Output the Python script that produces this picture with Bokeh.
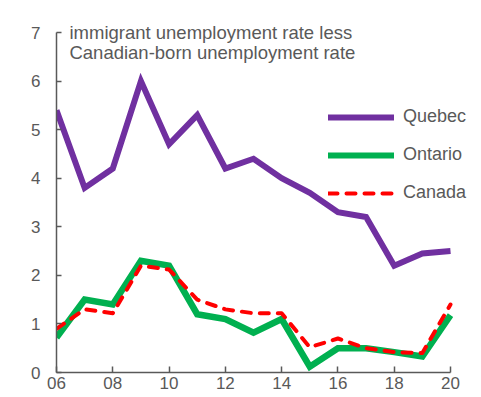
from bokeh.plotting import figure
from bokeh.models import Range1d, FixedTicker, Label, Legend, LegendItem
from bokeh.embed import file_html
from bokeh.resources import INLINE

years = [2006, 2007, 2008, 2009, 2010, 2011, 2012, 2013, 2014, 2015, 2016, 2017, 2018, 2019, 2020]
quebec = [5.4, 3.8, 4.2, 6.0, 4.7, 5.3, 4.2, 4.4, 4.0, 3.7, 3.3, 3.2, 2.2, 2.45, 2.5]
ontario = [0.72, 1.5, 1.4, 2.3, 2.2, 1.2, 1.1, 0.82, 1.1, 0.12, 0.5, 0.5, 0.42, 0.33, 1.18]
canada = [0.9, 1.3, 1.22, 2.2, 2.12, 1.5, 1.3, 1.22, 1.22, 0.52, 0.7, 0.5, 0.42, 0.4, 1.4]
x_ticks = [2006, 2008, 2010, 2012, 2014, 2016, 2018, 2020]
x_tick_labels = ["06", "08", "10", "12", "14", "16", "18", "20"]
y_ticks = [0, 1, 2, 3, 4, 5, 6, 7]
title_lines = ["immigrant unemployment rate less", "Canadian-born unemployment rate"]
series_names = ["Quebec", "Ontario", "Canada"]

FONT = "Liberation Sans"
GREY = "#595959"
PURPLE, GREEN, RED = "#7030A0", "#00B050", "#FF0000"
NAN = float("nan")

# frame spans the page to the right and top edges; axes are bounded to the data extent
x_end = 2006 + 425 * 14 / 394
y_end = 7 + 32 / (340 / 7)

p = figure(width=481, height=397, output_backend="svg", toolbar_location=None,
           x_range=Range1d(2006, x_end), y_range=Range1d(0, y_end),
           min_border_left=56, min_border_right=0, min_border_top=0, min_border_bottom=25)
p.outline_line_color = None
p.xgrid.visible = False
p.ygrid.visible = False
p.background_fill_color = "white"
p.border_fill_color = "white"

for ax in (p.xaxis[0], p.yaxis[0]):
    ax.axis_line_color = GREY
    ax.axis_line_width = 1.5
    ax.major_tick_line_color = GREY
    ax.major_tick_line_width = 1.5
    ax.minor_tick_line_color = None
    ax.major_tick_out = 0
    ax.major_label_text_font = FONT
    ax.major_label_text_font_size = "17px"
    ax.major_label_text_color = GREY

p.xaxis.bounds = (2006, 2020)
p.yaxis.bounds = (0, 7)
p.xaxis.ticker = FixedTicker(ticks=x_ticks)
p.xaxis.major_label_overrides = {t: l for t, l in zip(x_ticks, x_tick_labels)}
p.xaxis.major_tick_in = 6
p.xaxis.major_label_standoff = 4
p.yaxis.ticker = FixedTicker(ticks=y_ticks)
p.yaxis.major_tick_in = 5
p.yaxis.major_label_standoff = 16

p.line(years, quebec, line_color=PURPLE, line_width=6, line_join="miter")
p.line(years, ontario, line_color=GREEN, line_width=6.5, line_join="miter")
p.line(years, canada, line_color=RED, line_width=4, line_dash="9 9",
       line_cap="round", line_join="round")

# legend swatches with rounded ends (renderers without visible data)
lq = p.line([NAN], [NAN], line_color=PURPLE, line_width=6, line_cap="round")
lo = p.line([NAN], [NAN], line_color=GREEN, line_width=6, line_cap="round")
lc = p.line([NAN], [NAN], line_color=RED, line_width=4, line_dash="9 9", line_cap="round")

legend = Legend(items=[LegendItem(label=n, renderers=[r])
                       for n, r in zip(series_names, [lq, lo, lc])],
                location=(272, 169), orientation="vertical",
                glyph_width=66, glyph_height=20, label_height=20, label_standoff=9,
                spacing=17, padding=0, margin=0,
                border_line_alpha=0, background_fill_alpha=0,
                label_text_font=FONT, label_text_font_size="18px",
                label_text_color=GREY)
p.add_layout(legend)

p.add_layout(Label(x=2006.46, y=7.0, text=title_lines[0], text_font=FONT,
                   text_font_size="18.5px", text_color=GREY, text_baseline="alphabetic"))
p.add_layout(Label(x=2006.46, y=6.59, text=title_lines[1], text_font=FONT,
                   text_font_size="18.5px", text_color=GREY, text_baseline="alphabetic"))

open("out.html", "w").write(file_html(p, INLINE))
